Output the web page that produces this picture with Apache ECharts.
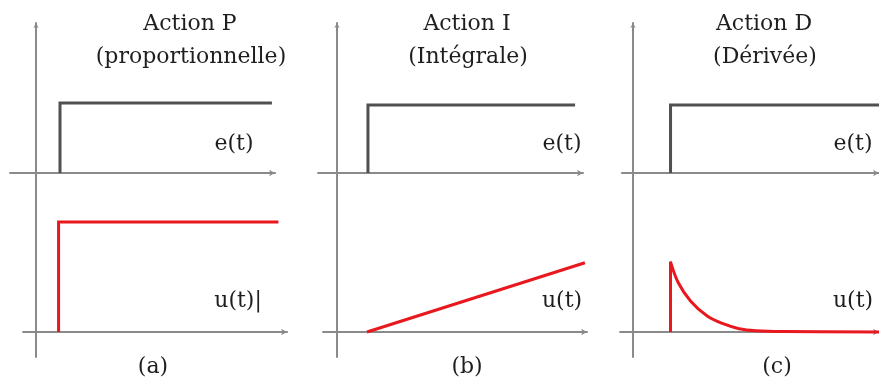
<!DOCTYPE html>
<html>
<head>
<meta charset="utf-8">
<script src="https://cdn.jsdelivr.net/npm/echarts@6/dist/echarts.min.js"></script>
<style>
html,body{margin:0;padding:0;background:#fff;}
#chart{width:879px;height:381px;}
</style>
</head>
<body>
<div id="chart"></div>
<script>
// texts
var panel_titles = ['Action P', 'Action I', 'Action D'];
var panel_subtitles = ['(proportionnelle)', '(Intégrale)', '(Dérivée)'];
var panel_captions = ['(a)', '(b)', '(c)'];
var e_label = 'e(t)';
var u_labels = ['u(t)|', 'u(t)', 'u(t)'];

// signals, time t = 0 on the vertical axis
var e_p_t = [1.0, 1.0, 9.83];
var e_p_v = [0, 1, 1];
var u_p_t = [0.94, 0.94, 10.1];
var u_p_v = [0, 1, 1];

var e_i_t = [1.29, 1.29, 9.92];
var e_i_v = [0, 0.97, 0.97];
var u_i_t = [1.25, 10.33];
var u_i_v = [0, 0.63];

var e_d_t = [1.63, 1.63, 10.6];
var e_d_v = [0, 0.97, 0.97];
var u_d_t = [1.63, 1.63, 1.96, 2.5, 3.21, 3.92, 4.58, 5.3, 6.5, 10.6];
var u_d_v = [0, 0.64, 0.45, 0.28, 0.145, 0.073, 0.03, 0.012, 0.004, 0];

// axis extents (time units) for each panel: top axis, bottom axis
var top_range = [[-1.08, 9.96], [-0.79, 10.25], [-0.46, 10.6]];
var bot_range = [[-0.54, 10.46], [-0.58, 10.42], [-0.54, 10.6]];

// layout
var x0 = [36, 337, 633];
var K = 24;
var axis_color = '#8a8a8a';
var e_color = '#505050';
var u_color = '#e8181e';
var font = 'DejaVu Serif';

function pairs(t, v){
    var out = [];
    for (var i = 0; i < t.length; i++) out.push([t[i], v[i]]);
    return out;
}

function hAxis(gi, r){
    return {
        type: 'value', gridIndex: gi, min: r[0], max: r[1],
        axisLine: {show: true, onZero: false, symbol: ['none', 'arrow'], symbolSize: [5, 6],
            lineStyle: {color: axis_color, width: 2}},
        axisTick: {show: false}, axisLabel: {show: false}, splitLine: {show: false}
    };
}
function hidden(gi){
    return {
        type: 'value', gridIndex: gi, min: 0, max: 1, show: false,
        splitLine: {show: false}
    };
}

var grid = [], xAxis = [], yAxis = [], series = [], graphic = [];

for (var p = 0; p < 3; p++){
    // vertical axis
    var g = grid.length;
    grid.push({left: x0[p], top: 23, width: 1, height: 334});
    xAxis.push(hidden(g));
    yAxis.push({
        type: 'value', gridIndex: g, min: 0, max: 1,
        axisLine: {show: true, onZero: false, symbol: ['none', 'arrow'], symbolSize: [4, 5],
            lineStyle: {color: axis_color, width: 2}},
        axisTick: {show: false}, axisLabel: {show: false}, splitLine: {show: false}
    });
    // e(t)
    var gt = grid.length;
    grid.push({left: x0[p] + top_range[p][0] * K, top: 103,
        width: (top_range[p][1] - top_range[p][0]) * K, height: 70});
    xAxis.push(hAxis(gt, top_range[p]));
    yAxis.push(hidden(gt));
    // u(t)
    var gb = grid.length;
    grid.push({left: x0[p] + bot_range[p][0] * K, top: 222,
        width: (bot_range[p][1] - bot_range[p][0]) * K, height: 110});
    xAxis.push(hAxis(gb, bot_range[p]));
    yAxis.push(hidden(gb));
}

function line(gi, data, color, smooth){
    return {
        type: 'line', xAxisIndex: gi, yAxisIndex: gi, data: data,
        showSymbol: false, clip: false, silent: true, animation: false,
        smooth: smooth || false,
        lineStyle: {color: color, width: 3, join: smooth ? 'round' : 'miter'}
    };
}

series.push(line(1, pairs(e_p_t, e_p_v), e_color));
series.push(line(2, pairs(u_p_t, u_p_v), u_color));
series.push(line(4, pairs(e_i_t, e_i_v), e_color));
series.push(line(5, pairs(u_i_t, u_i_v), u_color));
series.push(line(7, pairs(e_d_t, e_d_v), e_color));
var u_d = pairs(u_d_t, u_d_v);
series.push(line(8, u_d.slice(0, 2), u_color));
series.push(line(8, u_d.slice(1), u_color, 0.35));

function txt(x, y, s){
    return {
        type: 'text', x: x, y: y, silent: true,
        style: {text: s, fill: '#1e1e1e', font: '22px "' + font + '"', align: 'center', verticalAlign: 'middle'}
    };
}
var title_x = [190, 467, 764];
var lab_x = [234, 562, 853];
var cap_x = [153, 467, 777];
for (var p = 0; p < 3; p++){
    graphic.push(txt(title_x[p], 24, panel_titles[p]));
    graphic.push(txt(title_x[p] + 1, 57, panel_subtitles[p]));
    graphic.push(txt(lab_x[p], 144, e_label));
    graphic.push(txt(lab_x[p] + (p == 0 ? 4 : 0), 301, u_labels[p]));
    graphic.push(txt(cap_x[p], 367, panel_captions[p]));
}

var myChart = echarts.init(document.getElementById('chart'));
var option = {
    animation: false,
    backgroundColor: '#fff',
    grid: grid,
    xAxis: xAxis,
    yAxis: yAxis,
    series: series,
    graphic: graphic
};
myChart.setOption(option, true);
</script>
</body>
</html>
